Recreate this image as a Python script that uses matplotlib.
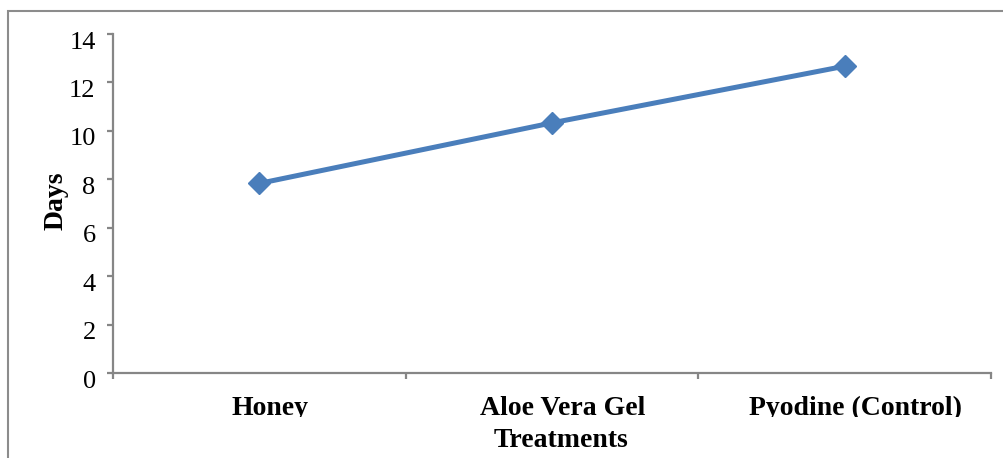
import matplotlib
matplotlib.use("Agg")
import matplotlib.pyplot as plt
from matplotlib.patches import Rectangle
from matplotlib.transforms import Bbox, TransformedBbox, ScaledTranslation, blended_transform_factory

# Healing time per treatment
treatments = ["Honey", "Aloe Vera Gel", "Pyodine (Control)"]
days = [7.83, 10.33, 12.67]
y_ticks = [0, 2, 4, 6, 8, 10, 12, 14]

W, H, DPI = 1004, 458, 100
LINE = "#4A7EBB"
GRID = "#868686"

plt.rcParams["font.family"] = ["Liberation Serif", "DejaVu Serif"]

fig = plt.figure(figsize=(W / DPI, H / DPI), dpi=DPI)
ax = fig.add_axes([113 / W, 85 / H, (991 - 113) / W, (373 - 34) / H])

x = list(range(len(treatments)))
ax.plot(x, days, color=LINE, lw=3.6, marker="D", markersize=11,
        markerfacecolor=LINE, markeredgecolor=LINE, solid_capstyle="round")

ax.set_xlim(-0.5, len(treatments) - 0.5)
ax.set_ylim(0, 14)
ax.set_yticks(y_ticks)
ax.set_yticklabels([str(v) for v in y_ticks], fontsize=19)
ax.set_xticks([i - 0.5 for i in range(len(treatments) + 1)])
ax.set_xticklabels([])

for s in ("top", "right"):
    ax.spines[s].set_visible(False)
for s in ("left", "bottom"):
    ax.spines[s].set_color(GRID)
    ax.spines[s].set_linewidth(1.6)
ax.tick_params(axis="both", direction="out", length=4.5, width=1.6, color=GRID)
ax.tick_params(axis="y", pad=8)

# Excel-style slight downward shift of the value labels
shift = ScaledTranslation(0, -6 / DPI, fig.dpi_scale_trans)
for lbl in ax.get_yticklabels():
    lbl.set_transform(lbl.get_transform() + shift)

# Category labels, clipped at the bottom like the original layout box
clip = TransformedBbox(Bbox([[0, 41.5 / H], [1, 1]]), fig.transFigure)
trans = blended_transform_factory(ax.transData, ax.transAxes) + \
    ScaledTranslation(11 / DPI, -42 / DPI, fig.dpi_scale_trans)
for xi, name in zip(x, treatments):
    t = ax.text(xi, 0, name, transform=trans, ha="center", va="baseline",
                fontsize=20, fontweight="bold", clip_on=True)
    t.set_clip_box(clip)

fig.text(561 / W, (H - 447) / H, "Treatments", ha="center", va="baseline",
         fontsize=20, fontweight="bold")
fig.text(56 / W, (H - 201) / H, "Days", ha="center", va="center",
         rotation=90, fontsize=20, fontweight="bold")

# Outer chart frame
frame = Rectangle((8 / W, -0.2), 1.5, 0.2 + 1 - 11 / H,
                  transform=fig.transFigure, fill=False,
                  edgecolor="#8C8C8C", lw=1.5)
fig.patches.append(frame)

fig.savefig("out.png", dpi=DPI)
